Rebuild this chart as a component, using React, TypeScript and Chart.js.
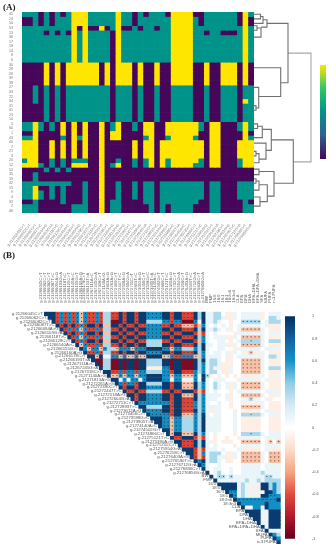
import React, { useEffect, useRef } from "react";
import { Chart, registerables } from "chart.js";

Chart.register(...registerables);

const rowLabelsA = ["45","24","50","53","13","36","17","18","14","8","6","30","28","26","39","38","27","33","22","34","31","41","23","10","5","60","1","43","40","7","21","3","20","12","52","35","19","42","15","9","4","32","2","46"];

const snpLabels = ["g.21266045C>T","g.21266062C>T","g.21266082C>T","g.21266087T>C","g.21266094A>G","g.21266103G>A","g.21266118T>C","g.21266129C>T","g.21266140A>C","g.21266155G>T","g.21266160A>G","g.21266178C>T","g.21266193T>A","g.21267111A>C","g.21267245G>A","g.21267318C>T","g.21271140A>G","g.21271813A>G","g.21272261A>G","g.21272390C>T","g.21272447T>C","g.21272518A>G","g.21272604G>A","g.21272711C>T","g.21272893T>C","g.21273012A>G","g.21273456C>T","g.21273598G>C","g.21273905T>A","g.21274140A>C","g.21274502G>T","g.21274866C>T","g.21275121T>C","g.21275390A>G","g.21275702C>T","g.21275954G>A","g.21276218C>T","g.21276403A>G","g.21276590T>C","g.21276712G>A","g.21276836C>T","g.21276856G>A"];

const traitLabels = ["BW","FMP","16:0","18:0","16:1","18:1","18:2n6","18:3n3","CLA","EPA","DPA","DHA","EPA+DHA","EPA+DPA+DHA","SFA","MUFA","PUFA","n-3 PUFA"];

// panel A: 1 / 2 / 3 genotype code per SNP (column), one string per sample (row)
const genotypeRows = [
  "222 1 2 1 2 1 2 333 22222 3 22 1 2 1 222 1 3333 11 222222 1 3 2",
  "11 2 1 2 1 222 333 22222 3 22 1 222222 3333 2 1 222222 1 3 1",
  "11 2 1 2 1 222 333 22222 3 22 1 222222 3333 2 1 222222 1 3 1",
  "222222222 3 1 3 11 3 1 2 3 11 2 1 22 1 22 3333 222222222 3 2",
  "2222 1 2 1 2 1 3 2 3 2222 1 3 222222222 3333 22 1 22 111 2 3 2",
  "222222222 3 2 3 2222 1 3 222222222 3333 222222222 3 2",
  "222222222 3 2 3 2222 1 3 222222222 3333 222222222 3 2",
  "222222222 3 2 3 2222 1 3 222222222 3333 222222222 3 2",
  "222222222 3 2 3 2222 1 3 222222222 3333 222222222 3 2",
  "222222222 3 2 3 2222 1 3 222222222 3333 222222222 3 2",
  "222222222 3 2 3 2222 1 3 222222222 3333 222222222 3 2",
  "1111 3 1 3 1 333333 1 3 1 333 1 3 11 3 11 3333 11 3 11 333 1 3 1",
  "1111 3 1 3 1 333333 1 3 1 333 1 3 11 3 11 3333 11 3 11 333 1 3 1",
  "1111 3 1 3 1 333333 1 3 1 333 1 3 11 3 11 3333 11 3 11 333 1 3 1",
  "1111 3 1 3 1 333333 1 3 1 333 1 3 11 3 11 3333 11 3 11 333 1 3 1",
  "1111 3 1 3 1 333333 1 3 1 333 1 3 11 3 11 3333 11 3 11 333 1 3 1",
  "11 2 1 2 1 2 1 22222222 1 222 1 2 11 2 11 2222 11 2 11 222 1 2 2",
  "11 2 1 2 1 2 1 22222222 1 222 1 2 11 2 11 2222 11 2 11 222 1 2 2",
  "11 2 1 2 1 2 1 22222222 1 222 1 2 11 2 11 2222 11 2 11 222 1 2 2",
  "11 2 1 2 1 2 1 22222222 1 222 1 2 11 2 11 2222 11 2 11 222 1 3 2",
  "11 1 1 2 1 2 1 22222222 1 222 1 2 11 2 11 2222 11 2 11 222 1 2 2",
  "11 1 1 2 1 2 1 22222222 1 222 1 2 11 2 11 2222 11 2 11 222 1 2 2",
  "11 1 1 2 1 2 1 22222222 1 222 1 2 11 2 11 2222 11 2 11 222 1 2 2",
  "11 1 1 2 1 2 1 22222222 1 222 1 2 11 2 11 2222 11 2 11 222 1 2 2",
  "22 3 2 1 2 1 3 1 3 1 3 11 3 1 2 3 11 2 1 33 1 1 3 33333 2 1 33 111 2 3 2",
  "22 3 2 1 2 1 3 1 3 1 3 11 3 1 2 3 11 2 1 33 1 1 3 33333 2 1 33 111 2 3 2",
  "11 3 1111 3 1 3 1 3 11 3 1 3 3 11 1 1 33 1 1 3 33333 1 1 33 111 1 3 1",
  "22 3 1111 2 1 3 2 3 11 3 1 3 3 11 1 1 2 3 1 1 2 3333 2 1 1 33 111 1 3 2",
  "333 11 3 1 3 1 3 1 3 11 3 1 1 1 11 3 1 33 1 3 3 333333 1 33 111 333",
  "333 11 3 1 3 1 3 1 3 11 3 1 1 1 11 3 1 33 1 3 3 333333 1 33 111 333",
  "333 11 3 1 3 1 3 1 3 11 3 1 1 1 11 3 1 33 1 3 3 333333 1 33 111 333",
  "333 11 3 1 3 1 3 1 3 11 3 1 1 1 11 3 1 33 1 3 3 333333 1 33 111 333",
  "2 33 1 1 2 1 2 1 2 2 2 11 3 1 1 2 11 2 1 2 3 1 3 2 33333 2 1 33 111 2 3 3",
  "333 2 1 2 1 2 1 3 3 3 11 3 1 2 3 11 2 1 2 3 1 3 2 3333 22 1 33 111 2 3 3",
  "1111 2 1 2 1 2 11111 3 111111111111111111111111111",
  "11 2 11111111111 3 111111111111111111111111111",
  "11 2 11111111111 3 111111111111111111111111111",
  "222 222222 11 2 11 3 11 2 11 2 1 22 1 2 2 222222 1 22 111 222",
  "22 3 1 1 2 1 2 1 11 2 11 3 11 2 11 2 1 22 1 2 2 222222 1 22 111 222",
  "22 3 2 1 2 1 2 1 11 2 11 3 11 2 11 2 1 22 1 2 2 222222 1 22 111 222",
  "22 3 2 1 2 1 2 1 11 2 11 3 11 2 11 2 1 22 1 2 2 222222 1 22 111 222",
  "11 2 1 1 1 1 2 1 11 2 11 3 1 2 2 11 1 1 22 1 2 2 22222 1 1 22 111 1 2 1",
  "222 111111 222 11 3 1 22 11 1 1 1 2 1 2 1 2222 1 1 1 22 111 1 22",
  "222 111111 222 11 3 1 22 11 1 1 1 2 1 2 1 2222 1 1 1 22 111 1 22",
];

const genotypeColors: Record<string, string> = { "1": "#46075a", "2": "#00938a", "3": "#ffe600" };

// panel A dendrogram: [childTopDistance, topRow, joinDistance, bottomRow, childBottomDistance]
const dendroLinks = [
  [0, 0.5, 6.5, 1.5, 0],
  [6.5, 1, 9, 2.5, 0],
  [0, 3, 3, 4, 0],
  [3, 3.5, 7, 5.5, 0],
  [9, 1.7, 13, 3.3, 7],
  [0, 16.5, 4.7, 21, 2],
  [0, 20.5, 2, 21.5, 0],
  [0, 12.2, 26.7, 18.5, 4.7],
  [13, 2.5, 34, 15.5, 26.7],
  [0, 24.5, 3.5, 25.5, 0],
  [3.5, 25, 8.3, 27.5, 0],
  [0, 30.5, 2, 31.5, 0],
  [2, 31, 5, 33, 0],
  [0, 28.7, 12, 32.2, 5],
  [8.3, 25.7, 17.3, 30.3, 12],
  [0, 34.4, 5, 35.6, 0],
  [0, 36.5, 2, 37.5, 0],
  [2, 37, 5, 39, 0],
  [0, 40.5, 6, 42.5, 0],
  [5, 37.8, 13.3, 41.5, 6],
  [5, 34.9, 20, 40.3, 13.3],
  [17.3, 28, 39.3, 37.5, 20],
];
const dendroRoots = [
  [34, 9, 57, 32.8, 39.3],
];

// panel B: upper triangle, one code per cell, upper case = significant (star)
const levelValues: Record<string, number> = { n: 0.95, t: 0.62, c: 0.32, l: 0.1, w: 0, p: -0.1, o: -0.3, r: -0.62, d: -0.92 };

const corrRows = [
  "NNNRTRTRTOTRRTRccRRNRNNRNN TTTT NN R NN RRR N c N l  lccwpplw lllll pw lll",
  "NNRTRTRTOTRRTRccRRNRNNRNN TTTT NN R NN RRR N c N l  lcclpplw lllll pw ccl",
  "NRTRTRTOTRRTRccDDNRNNRNN cccc TT R TT DDD T w N l  lclwwpww CCCCC wl ccc",
  "NRNRNRTRNNRNooNNRNRRNRR TTTT RR N RR OOO R o T l  wlwlwpwl lllll wl ppp",
  "NRTRTOTRRTRccRRNRNNRNN TTTT NN R NN RRR N c N l  lclwlpwl OOOOO lw ppp",
  "NRNRTRNNRNooNNRNRRNRR TTTT RR N RR NNN R o R l  wlwwwwpl lllll lw lll",
  "NRTOTRRTRccRRNRNNRNN TTTT NN R NN RRR N c T l  wlllpplw OOOOO lw ppp",
  "NRTRNNRNooNNRNRRNRR cccc RR N RR NNN R o T l  wwllwpwl ccCcc lw ccc",
  "NOTRRTRccRRNRNNRNN cccc NN R NN RRR N c N l  lwllpplw OOOOO lw ppp",
  "NTOTTOTccOTTTOTTT NNNN TT O TT ccc T c N l  wwllwwpl lllll wl lll",
  "NRRTRccRRNRNNRNN TTTT NN R NN RRR N c T l  wllwlplw ppOpp lw ppp",
  "NNONllTTOTOOTOO NNNN OO T RR TTT O o T l  lllwlpwl lllll lw ccl",
  "NDDccDDNDNNDNN cccc NN D NN DDD N c N l  cclwppww OOOOO lw ppp",
  "NDccDDNDNNDNN cccc NN D NN DDD N c T l  cclpppww OOOOO lw ppp",
  "NccDDNDNNDNN pppp TT D NN DDD N c T l  cplpplww OOOOO lw ccc",
  "NNRRTRTTRTT cccc TT R NN RRR T c T l  ccwpplww OOOOO lw ppp",
  "NOOTOTTOTT NNNN TT O TT OOO T l N C  pwlwpwpw ppppp lw ppl",
  "NNlTlTTlT NNNN TT l TT lll T l N l  wlllwwwp lllll wl ppp",
  "NTRTTRNN cccc NN R NN OOO N c T l  wclwlplw OOOOO lw ppp",
  "NRNNRNN TTTT NN R NN OOO N c T l  wclwlplw OOOOO lw ppp",
  "NRRNRR cccc RR N RR NNN R o R l  wlwwwpwl lllll wl lll",
  "NNRNN TTTT NN R NN OOO N c T l  lllwlpww OOOOO lw ppp",
  "NRNN TTTT NN R NN RRR N c T l  llwwlpww llCll wl pww",
  "NTT TTTT TT R NN RRR T c T l  wwlwwpww ppppp lw ppp",
  "NN cccc NN R NN RRR T c T l  lllwwpww OOOOO lw ppp",
  "N TTTT NN R NN RRR N c T l  pplwwwpw ppppp wl lpp",
  "NTTT TT R NN OOO T c N l  wllwwwlw ccCcc lw lll",
  "NNN TT O TT ccc T c N l  lllwwwlw ppppp ww ppp",
  "NN TT O TT ccc T c N l  lllwwwlw ppppp ww ppp",
  "N TT O TT ccc T c N l  lllwwwlw ppppp ww ppp",
  "NN O TT ccc T c N l  lllwwwlw ppppp ww ppp",
  "N O NN OOO N c T l  wlwwwwpw ccCcc lw lll",
  "N RR NNN R o R l  wpwwpwwp lllll wl lll",
  "N N RRR N c N l  ppwpppww OOOOO wp OwO",
  "N RRR N c N l  wlwwwwpw lllll wl lll",
  "N NN R o R l  llwlwwwl ppppp wl ppp",
  "N N R o T l  cccwpplw OOOOO lw OOO",
  "N R o R l  ccllpplw OOOOO lw OOO",
  "N T N l  cclwppww OOOOO lw OOO",
  "N T l  wwlwwwww lllll wl lll",
  "N l  wllwwlww lllll wl lll",
  "N  wlcwwlww lllll cl lll",
  "n l C C l C l l l l l l l l C C l l",
  "n l l l l l l l c l l c l c c c c",
  "nnnnn lclplp nn ctc",
  "nnnn lclplp nn ctc",
  "nTTlcllplpnntc",
  "nTlclplpnnTTt",
  "nTTTTTTTTTTn",
  "n t t t t t t n t t t",
  "n l l t t l n t t t",
  "nnnnllnnn",
  "nnnllnnn",
  "nnllnnn",
  "nllnnn",
  "nlnnn",
  "nlll",
  "ntc",
  "nt",
  "n",
];

const viridisTicks = [1, 1.5, 2, 2.5, 3];
const corrTicks = [-1, -0.8, -0.6, -0.4, -0.2, 0, 0.2, 0.4, 0.6, 0.8, 1];

const viridisStops: [number, string][] = [[0, "#46075a"], [0.25, "#2f5f92"], [0.5, "#00938a"], [0.75, "#2cc66a"], [1, "#ffe600"]];
const rdbuStops: [number, string][] = [
  [0, "#67001f"], [0.1, "#b2182b"], [0.2, "#e04b3c"], [0.3, "#f4a582"], [0.4, "#fcdcc9"], [0.5, "#ffffff"],
  [0.6, "#d5eaf4"], [0.7, "#8fcde6"], [0.8, "#1593c7"], [0.9, "#135f9f"], [1, "#053061"],
];

function hexToRgb(h: string) {
  return [parseInt(h.slice(1, 3), 16), parseInt(h.slice(3, 5), 16), parseInt(h.slice(5, 7), 16)];
}
function corrColor(v: number) {
  const t = (v + 1) / 2;
  for (let i = 1; i < rdbuStops.length; i++) {
    if (t <= rdbuStops[i][0]) {
      const [a, ca] = rdbuStops[i - 1];
      const [b, cb] = rdbuStops[i];
      const f = (t - a) / (b - a);
      const x = hexToRgb(ca), y = hexToRgb(cb);
      return `rgb(${x.map((c, k) => Math.round(c + (y[k] - c) * f)).join(",")})`;
    }
  }
  return rdbuStops[rdbuStops.length - 1][1];
}

const SANS = "'Liberation Sans', Arial, sans-serif";
const tinyFont = (size: number) => ({ family: SANS, size });

const colLabelsA = snpLabels;
const colLabelsB = [...snpLabels, ...traitLabels];

function heatA(canvas: HTMLCanvasElement) {
  const rows = genotypeRows.map((r) => r.replace(/\s+/g, ""));
  const datasets = rows.map((r, i) => ({
    data: colLabelsA.map(() => [i, i + 1]),
    backgroundColor: colLabelsA.map((_, j) => genotypeColors[r[j]] || genotypeColors["1"]),
    borderWidth: 0,
    barPercentage: 1,
    categoryPercentage: 1,
    grouped: false,
  }));
  return new Chart(canvas, {
    type: "bar",
    data: { labels: colLabelsA, datasets: datasets as any },
    options: {
      responsive: false,
      animation: false,
      layout: { padding: { left: 0, right: 82, top: 12, bottom: 0 } },
      plugins: { legend: { display: false }, tooltip: { enabled: false } },
      scales: {
        x: {
          grid: { display: false },
          border: { display: false },
          ticks: { autoSkip: false, minRotation: 52, maxRotation: 52, font: tinyFont(3.8), color: "#777", padding: 2 },
          afterFit: (s: any) => { s.height = 37; },
        },
        y: {
          type: "linear", min: 0, max: rows.length, reverse: true,
          grid: { display: false },
          border: { display: false },
          afterBuildTicks: (s: any) => { s.ticks = rowLabelsA.map((_, i) => ({ value: i + 0.5 })); },
          ticks: {
            autoSkip: false, font: tinyFont(3.6), color: "#777", padding: 1,
            callback: (v: any) => rowLabelsA[Math.floor(Number(v))],
          },
          afterFit: (s: any) => { s.width = 22; },
        },
      },
    } as any,
  });
}

function dendro(canvas: HTMLCanvasElement) {
  const link = (l: number[], color: string, w: number) => ({
    data: [{ x: l[0], y: l[1] }, { x: l[2], y: l[1] }, { x: l[2], y: l[3] }, { x: l[4], y: l[3] }],
    borderColor: color, borderWidth: w, pointRadius: 0, showLine: true, tension: 0, fill: false,
  });
  return new Chart(canvas, {
    type: "scatter",
    data: {
      datasets: [
        ...dendroLinks.map((l) => link(l, "#707070", 1.1)),
        ...dendroRoots.map((l) => link(l, "#a8a8a8", 1.1)),
      ] as any,
    },
    options: {
      responsive: false, animation: false,
      layout: { padding: { left: 0, right: 2, top: 12, bottom: 37 } },
      plugins: { legend: { display: false }, tooltip: { enabled: false } },
      scales: {
        x: { type: "linear", min: 0, max: 60, display: false },
        y: { type: "linear", min: 0, max: 44, reverse: true, display: false },
      },
    } as any,
  });
}

function colorbar(canvas: HTMLCanvasElement, opts: {
  stops: [number, string][]; ticks: number[]; left: number; axisWidth: number; top: number; bottom: number; labelPad: number; fontSize: number; fmt: (v: number) => string;
}) {
  const min = opts.ticks[0], max = opts.ticks[opts.ticks.length - 1];
  return new Chart(canvas, {
    type: "bar",
    data: {
      labels: ["scale"],
      datasets: [{
        data: [[min, max]],
        borderWidth: 0, barPercentage: 1, categoryPercentage: 1,
        backgroundColor: (ctx: any) => {
          const a = ctx.chart.chartArea;
          if (!a) return "#888";
          const g = ctx.chart.ctx.createLinearGradient(0, a.bottom, 0, a.top);
          opts.stops.forEach(([p, c]) => g.addColorStop(p, c));
          return g;
        },
      }],
    } as any,
    options: {
      responsive: false, animation: false,
      layout: { padding: { left: opts.left, right: 0, top: opts.top, bottom: opts.bottom } },
      plugins: { legend: { display: false }, tooltip: { enabled: false } },
      scales: {
        x: { display: false },
        y: {
          position: "right", min, max,
          grid: { display: false }, border: { display: false },
          afterBuildTicks: (s: any) => { s.ticks = opts.ticks.map((value) => ({ value })); },
          ticks: { autoSkip: false, display: true, font: tinyFont(opts.fontSize), color: "#555", padding: opts.labelPad, callback: (v: any) => opts.fmt(Number(v)) },
          afterFit: (s: any) => { s.width = opts.axisWidth; },
        },
      },
    } as any,
  });
}

function heatB(canvas: HTMLCanvasElement) {
  const n = colLabelsB.length;
  const rows = corrRows.map((r, i) => r.replace(/\s+/g, "").slice(-(n - i)));
  const cellsDs = rows.map((r, i) => {
    const off = n - r.length;
    return {
      type: "bar",
      order: 2,
      data: colLabelsB.map((_, j) => (j >= off ? [i, i + 1] : null)),
      backgroundColor: colLabelsB.map((_, j) => (j >= off ? corrColor(levelValues[r[j - off].toLowerCase()] ?? 0) : "transparent")),
      borderWidth: 0, barPercentage: 1, categoryPercentage: 1, grouped: false,
    };
  });
  const stars: { x: string; y: number }[] = [];
  rows.forEach((r, i) => {
    const off = n - r.length;
    [...r].forEach((c, k) => {
      if (c !== c.toLowerCase() && k > 0) stars.push({ x: colLabelsB[off + k], y: i + 0.5 });
    });
  });
  const starDs = {
    type: "line", order: 1, data: stars, showLine: false,
    pointRadius: 0.55, pointBorderWidth: 0, pointBackgroundColor: "#2a2a2a",
  };
  const diagLabels = {
    id: "diagLabels",
    afterDatasetsDraw(chart: any) {
      const { ctx, scales } = chart;
      ctx.save();
      ctx.font = `4.3px ${SANS}`;
      ctx.fillStyle = "#555";
      ctx.textAlign = "right";
      ctx.textBaseline = "middle";
      colLabelsB.forEach((lab, i) => {
        const x = scales.x.getPixelForValue(i) - scales.x.width / n / 2 - 1.2;
        ctx.fillText(lab, x, scales.y.getPixelForValue(i + 0.5));
      });
      ctx.restore();
    },
  };
  return new Chart(canvas, {
    type: "bar",
    data: { labels: colLabelsB, datasets: [...cellsDs, starDs] as any },
    plugins: [diagLabels],
    options: {
      responsive: false, animation: false,
      layout: { padding: { left: 44, right: 55.3, top: 0, bottom: 6 } },
      plugins: { legend: { display: false }, tooltip: { enabled: false } },
      scales: {
        x: {
          position: "top",
          grid: { display: false }, border: { display: false },
          ticks: { autoSkip: false, minRotation: 90, maxRotation: 90, font: tinyFont(4.2), color: "#666", padding: 1 },
          afterFit: (s: any) => { s.height = 46.7; },
        },
        y: { type: "linear", min: 0, max: n, reverse: true, display: false },
      },
    } as any,
  });
}

const abs = (left: number, top: number): React.CSSProperties => ({ position: "absolute", left, top, display: "block" });
const panelLabel = (left: number, top: number): React.CSSProperties => ({
  position: "absolute", left, top, font: "bold 9px 'Liberation Serif', serif", color: "#222", lineHeight: "9px",
});

export default function App() {
  const aRef = useRef<HTMLCanvasElement>(null);
  const dRef = useRef<HTMLCanvasElement>(null);
  const cbARef = useRef<HTMLCanvasElement>(null);
  const bRef = useRef<HTMLCanvasElement>(null);
  const cbBRef = useRef<HTMLCanvasElement>(null);
  useEffect(() => {
    const charts = [
      heatA(aRef.current!),
      dendro(dRef.current!),
      colorbar(cbARef.current!, {
        stops: viridisStops, ticks: viridisTicks, left: 10, axisWidth: 44, top: 5, bottom: 6, labelPad: 2, fontSize: 4,
        fmt: (v) => v.toFixed(1),
      }),
      heatB(bRef.current!),
      colorbar(cbBRef.current!, {
        stops: rdbuStops, ticks: corrTicks, left: 10, axisWidth: 41, top: 7, bottom: 6, labelPad: 9, fontSize: 3.8,
        fmt: (v) => String(Math.round(v * 10) / 10),
      }),
    ];
    return () => charts.forEach((c) => c.destroy());
  }, []);
  return (
    <div style={{ position: "absolute", left: 0, top: 0, width: 336, height: 550, overflow: "hidden", background: "#fff" }}>
      <canvas ref={aRef} width={336} height={250} style={abs(0, 0)} />
      <canvas ref={dRef} width={62} height={250} style={abs(254, 0)} />
      <canvas ref={bRef} width={336} height={285} style={abs(0, 265)} />
      <canvas ref={cbBRef} width={61} height={245} style={abs(275, 305)} />
      <canvas ref={cbARef} width={60} height={105} style={abs(310, 60)} />
      <div style={panelLabel(3, 3)}>(A)</div>
      <div style={panelLabel(3, 251)}>(B)</div>
    </div>
  );
}
